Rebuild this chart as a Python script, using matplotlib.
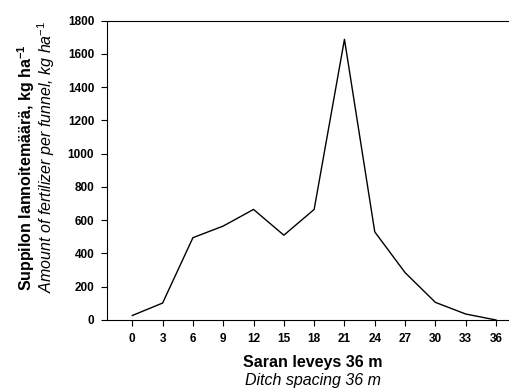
import matplotlib
matplotlib.use("Agg")
import matplotlib.pyplot as plt

plt.rcParams['font.family'] = ['Liberation Sans', 'DejaVu Sans']
plt.rcParams['mathtext.fontset'] = 'custom'
plt.rcParams['mathtext.rm'] = 'Liberation Sans'
plt.rcParams['mathtext.bf'] = 'Liberation Sans:bold'
plt.rcParams['mathtext.it'] = 'Liberation Sans:italic'

distance = [0, 3, 6, 9, 12, 15, 18, 21, 24, 27, 30, 33, 36]
amount = [27, 102, 495, 565, 665, 510, 665, 1688, 530, 285, 106, 36, 0]
yticks = [0, 200, 400, 600, 800, 1000, 1200, 1400, 1600, 1800]

W, H = 509, 390
fig = plt.figure(figsize=(W / 100, H / 100), dpi=100)
left, right, bottom, top = 106.7, 509, 320, 20.7
ax = fig.add_axes([left / W, 1 - bottom / H, (right - left) / W, (bottom - top) / H])

ax.plot(distance, amount, color='black', linewidth=1.0)

# x: 0 at px 132.3, 36 at px 496
px_per_unit = (496 - 132.3) / 36
x0 = -(132.3 - left) / px_per_unit
x1 = (right - 132.3) / px_per_unit
ax.set_xlim(x0, x1)
ax.set_ylim(0, 1800)
ax.set_xticks(distance)
ax.set_yticks(yticks)
ax.tick_params(axis='both', direction='out', length=4, width=0.8, labelsize=8.5, pad=5)
for lab in ax.get_xticklabels() + ax.get_yticklabels():
    lab.set_fontweight('bold')
ax.spines['right'].set_visible(False)
for s in ['left', 'top', 'bottom']:
    ax.spines[s].set_linewidth(0.8)

fig.text(26 / W, 1 - 168 / H, r"Suppilon lannoitemäärä, kg ha$^{\mathbf{-1}}$",
         rotation=90, ha='center', va='center', fontsize=11.5, fontweight='bold')
fig.text(46 / W, 1 - 157 / H, r"Amount of fertilizer per funnel, kg ha$^{\mathit{-1}}$",
         rotation=90, ha='center', va='center', fontsize=11.5, fontstyle='italic')
fig.text(313 / W, 1 - 362 / H, "Saran leveys 36 m", ha='center', va='center',
         fontsize=11.5, fontweight='bold')
fig.text(313 / W, 1 - 381 / H, "Ditch spacing 36 m", ha='center', va='center',
         fontsize=11.5, fontstyle='italic')

fig.savefig("out.png", dpi=100)
